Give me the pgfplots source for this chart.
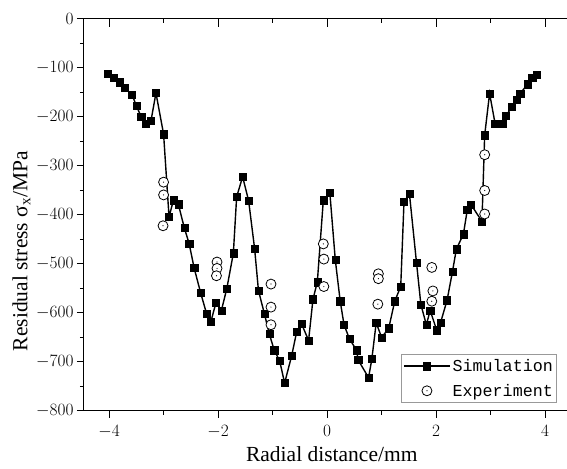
\documentclass[border=0pt]{standalone}
\usepackage[no-math]{fontspec}
\setmainfont{Liberation Serif}
\newfontfamily\legfont{Liberation Mono}
\usepackage{pgfplots}
\pgfplotsset{compat=1.18}

\pgfdeclareplotmark{odot}{%
  \pgfsetfillcolor{white}%
  \pgfpathcircle{\pgfpointorigin}{\pgfplotmarksize}%
  \pgfusepathqfillstroke
  \pgfsetfillcolor{black}%
  \pgfpathcircle{\pgfpointorigin}{0.6pt}%
  \pgfusepathqfill}

\begin{document}
\begin{tikzpicture}
\begin{axis}[name=ax,
  scale only axis, width=483pt, height=392pt,
  xmin=-4.46, xmax=4.40, ymin=-800, ymax=0,
  axis x line*=bottom, axis y line*=left,
  axis line style={-, line width=1pt},
  xtick={-4,-2,0,2,4}, minor xtick={-3,-1,1,3},
  ytick={-800,-700,...,0}, minor ytick={-750,-650,...,-50},
  tick align=outside, major tick length=7pt, minor tick length=4pt,
  every tick/.style={black, line width=1pt},
  ticklabel style={font=\fontsize{16}{16}\selectfont},
  xticklabel style={yshift=-4pt},
  xlabel={Radial distance/mm},
  ylabel={Residual stress σ\textsubscript{x}/MPa},
  every axis x label/.style={at={(axis description cs:0.513,-0.1301)}, anchor=base, font=\fontsize{21.5}{22}\selectfont},
  every axis y label/.style={at={(axis description cs:-0.1174,0.408)}, rotate=90, anchor=base, font=\fontsize{21.5}{22}\selectfont},
  legend style={at={(axis description cs:0.656,0.1454)}, anchor=north west,
    draw=gray!80, line width=0.8pt, font=\legfont\fontsize{16.7}{17}\selectfont,
    inner xsep=2pt, inner ysep=3pt, row sep=7pt},
  legend cell align=left,
]
\addplot[black, line width=1.4pt, mark=square*, mark size=3.6pt, mark options={solid, line width=0.4pt},
  legend image code/.code={\draw[mark repeat=2,mark phase=2] plot coordinates {(0pt,0pt) (23pt,0pt) (46pt,0pt)};}]
coordinates {
(-4.03,-112) (-3.92,-120) (-3.81,-129) (-3.71,-141) (-3.58,-154) (-3.50,-177)
(-3.41,-200) (-3.33,-213) (-3.23,-207) (-3.14,-151) (-3.00,-235) (-2.90,-404)
(-2.82,-370) (-2.73,-378) (-2.62,-426) (-2.53,-459) (-2.44,-508) (-2.32,-559)
(-2.21,-602) (-2.13,-617) (-2.04,-579) (-1.94,-595) (-1.84,-550) (-1.72,-478)
(-1.66,-363) (-1.55,-322) (-1.44,-371) (-1.33,-469) (-1.26,-554) (-1.15,-602)
(-1.06,-643) (-0.97,-676) (-0.87,-698) (-0.78,-743) (-0.65,-687) (-0.56,-639)
(-0.47,-622) (-0.34,-656) (-0.26,-572) (-0.18,-537) (-0.07,-370) (0.05,-355)
(0.15,-492) (0.24,-576) (0.31,-624) (0.41,-653) (0.54,-676) (0.57,-696)
(0.76,-732) (0.82,-694) (0.90,-620) (1.00,-650) (1.13,-631) (1.24,-576)
(1.35,-546) (1.41,-373) (1.51,-357) (1.64,-498) (1.72,-583) (1.82,-624)
(1.89,-595) (2.01,-635) (2.08,-620) (2.20,-574) (2.30,-515) (2.37,-470)
(2.50,-439) (2.57,-390) (2.64,-379) (2.84,-413) (2.89,-237) (2.98,-152)
(3.08,-213) (3.21,-213) (3.28,-198) (3.39,-179) (3.48,-164) (3.54,-152)
(3.68,-133) (3.76,-119) (3.85,-114)
};
\addlegendentry{Simulation}
\addplot[black, only marks, mark=odot, mark size=5pt, mark options={line width=0.8pt},
  legend image code/.code={\draw[only marks] plot coordinates {(23pt,0pt)};}]
coordinates {
(-3.00,-333) (-3.00,-359) (-3.01,-422)
(-2.02,-496) (-2.02,-509) (-2.03,-524)
(-1.03,-541) (-1.03,-588) (-1.03,-624)
(-0.07,-459) (-0.06,-490) (-0.06,-546)
(0.94,-520) (0.94,-530) (0.93,-582)
(1.92,-507) (1.94,-555) (1.92,-576)
(2.89,-277) (2.89,-350) (2.89,-398)
};
\addlegendentry{Experiment}
\end{axis}
\begin{axis}[
  scale only axis, width=483pt, height=392pt,
  xmin=-4.46, xmax=4.40, ymin=-800, ymax=0,
  axis x line*=top, hide y axis,
  axis line style={-, line width=1pt},
  xtick={-4,-2,0,2,4}, minor xtick={-3,-1,1,3}, xticklabels={},
  tick align=inside, major tick length=8pt, minor tick length=4pt,
  every tick/.style={black, line width=1pt},
]
\end{axis}
\pgfresetboundingbox
\path[use as bounding box] ([xshift=-84pt,yshift=-58pt]ax.south west) rectangle ([yshift=19pt]ax.north east);
\end{tikzpicture}
\end{document}
